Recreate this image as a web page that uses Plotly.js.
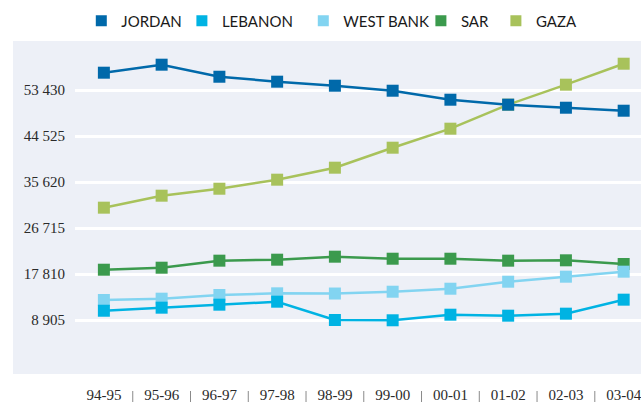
<!DOCTYPE html>
<html>
<head>
<meta charset="utf-8">
<script src="https://cdn.plot.ly/plotly-3.0.1.min.js"></script>
<style>html,body{margin:0;padding:0;background:#fff;}#chart{width:641px;height:403px;}</style>
</head>
<body>
<div id="chart"></div>
<script>
const years = ["94-95","95-96","96-97","97-98","98-99","99-00","00-01","01-02","02-03","03-04"];
const jordan   = [56780, 58330, 56000, 55040, 54260, 53290, 51550, 50590, 50000, 49420];
const lebanon  = [10700, 11290, 11870, 12450, 8900, 8850, 9930, 9740, 10130, 12840];
const westBank = [12780, 13030, 13750, 14070, 14030, 14380, 14960, 16320, 17290, 18260];
const sar      = [18640, 19030, 20390, 20580, 21160, 20770, 20770, 20390, 20460, 19750];
const gaza     = [30650, 32970, 34320, 36070, 38390, 42260, 45940, 50590, 54460, 58520];
const yTickVals = [8905, 17810, 26715, 35620, 44525, 53430];
const yTickText = ["8 905", "17 810", "26 715", "35 620", "44 525", "53 430"];

const series = [
  {name: "GAZA", y: gaza, color: "#a8c25b", legend: "legend5", lx: 495.9},
  {name: "SAR", y: sar, color: "#3b9a4d", legend: "legend4", lx: 420.9},
  {name: "WEST BANK", y: westBank, color: "#82d4f1", legend: "legend3", lx: 303.3},
  {name: "LEBANON", y: lebanon, color: "#00b3e3", legend: "legend2", lx: 181.9},
  {name: "JORDAN", y: jordan, color: "#0069aa", legend: "legend", lx: 81.3}
];

const plotL = 75, plotR = 641, plotT = 41, plotB = 374, W = 641, H = 403;
const pw = plotR - plotL, ph = plotB - plotT;

const traces = [];
series.forEach(s => {
  traces.push({
    type: "scatter", mode: "lines+markers", x: years, y: s.y, name: s.name,
    line: {color: s.color, width: 2.5},
    marker: {color: s.color, size: 12, symbol: "square"},
    showlegend: false, hoverinfo: "x+y+name"
  });
});
series.forEach(s => {
  traces.push({
    type: "scatter", mode: "markers", x: [null], y: [null], name: s.name,
    marker: {color: s.color, size: 11, symbol: "square"},
    showlegend: true, legend: s.legend
  });
});

const legendFont = {family: "Lato, 'DejaVu Sans', sans-serif", size: 15, color: "#1a1a1a"};
const layout = {
  width: W, height: H,
  margin: {l: plotL, r: W - plotR, t: plotT, b: H - plotB, pad: 0},
  paper_bgcolor: "#ffffff",
  plot_bgcolor: "rgba(0,0,0,0)",
  showlegend: true,
  xaxis: {
    type: "category", range: [-0.5, 9.3], showgrid: false, zeroline: false,
    showline: false, ticks: "", ticklabelstandoff: 10,
    tickfont: {family: "'Liberation Serif', serif", size: 15, color: "#2a2a2a"},
    fixedrange: true
  },
  yaxis: {
    range: [-1549, 62916], tickmode: "array", tickvals: yTickVals, ticktext: yTickText,
    showgrid: true, gridcolor: "#ffffff", gridwidth: 3, zeroline: false, showline: false,
    ticks: "", ticklabelstandoff: 9,
    tickfont: {family: "'Liberation Serif', serif", size: 15, color: "#2a2a2a"},
    fixedrange: true
  },
  shapes: [
    {type: "rect", xref: "paper", yref: "paper", x0: (13 - plotL) / pw, x1: 1, y0: 0, y1: 1,
     fillcolor: "#edf0f7", line: {width: 0}, layer: "below"}
  ],
  hovermode: "closest"
};
for (let i = 0; i < years.length - 1; i++) {
  layout.shapes.push({type: "line", xref: "x", yref: "paper", x0: i + 0.5, x1: i + 0.5,
    y0: (plotB - 391) / ph, y1: (plotB - 402) / ph, line: {color: "#8a8a8a", width: 1}});
}
series.forEach(s => {
  layout[s.legend] = {
    x: (s.lx - plotL) / pw, xanchor: "left", xref: "paper",
    y: 1 + (plotT - 21) / ph, yanchor: "middle", yref: "paper",
    orientation: "h", bgcolor: "rgba(0,0,0,0)", borderwidth: 0,
    font: legendFont
  };
});

Plotly.newPlot("chart", traces, layout, {displayModeBar: false, staticPlot: false});
</script>
</body>
</html>
